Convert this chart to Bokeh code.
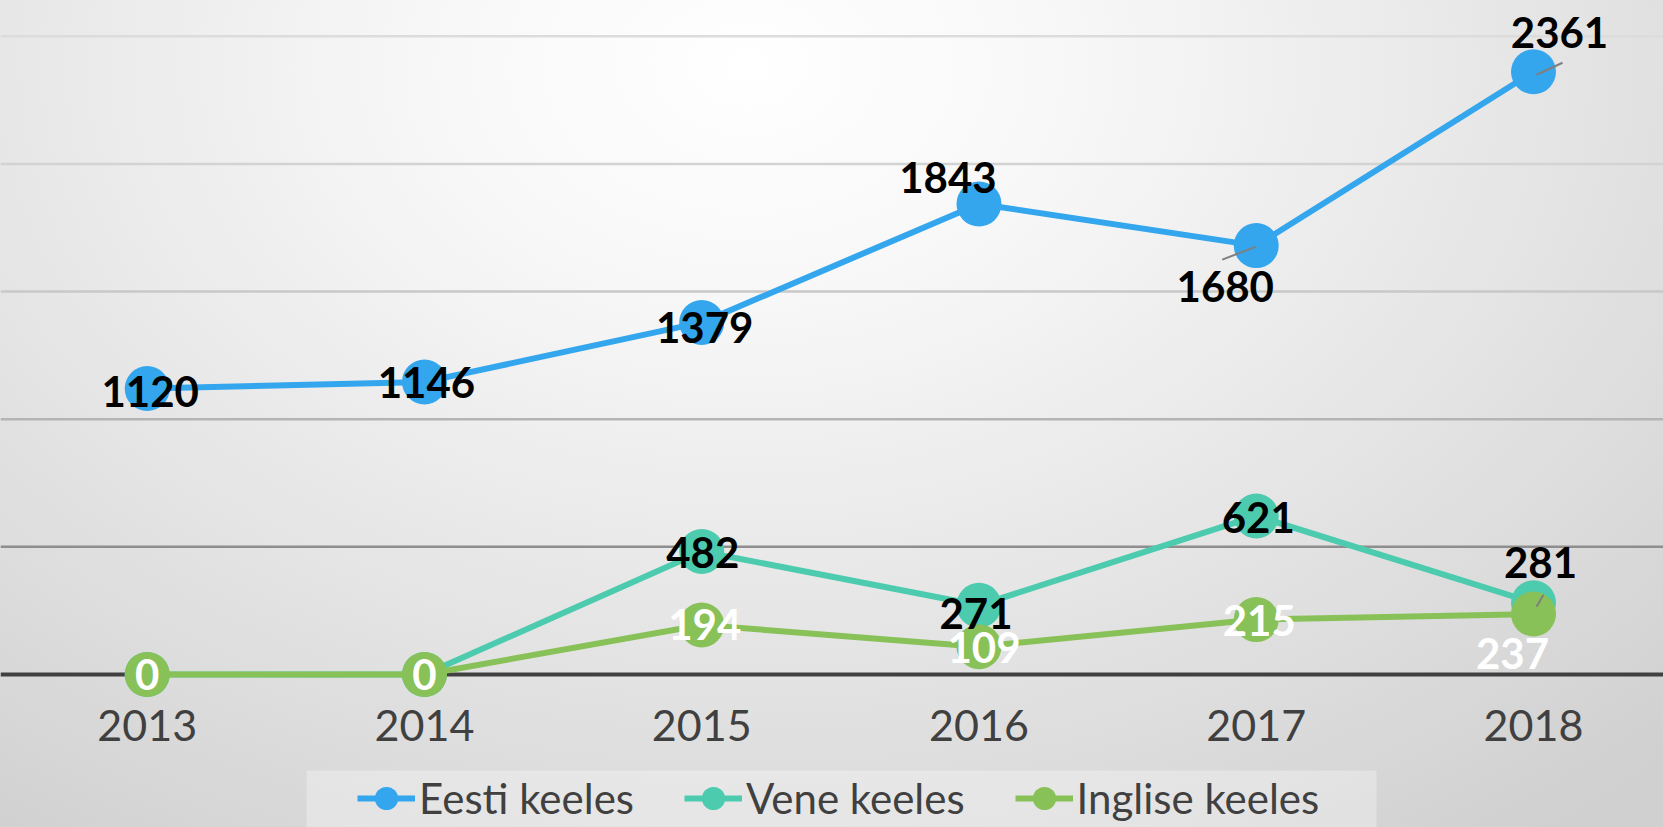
from bokeh.plotting import figure
from bokeh.models import Legend, LegendItem, FixedTicker, Span, BoxAnnotation, ColumnDataSource
from bokeh.core.properties import value
from bokeh.embed import file_html
from bokeh.resources import INLINE

# ---------------- data ----------------
years = [2013, 2014, 2015, 2016, 2017, 2018]
year_labels = ["2013", "2014", "2015", "2016", "2017", "2018"]
eesti = [1120, 1146, 1379, 1843, 1680, 2361]
vene = [0, 0, 482, 271, 621, 281]
inglise = [0, 0, 194, 109, 215, 237]
series_names = ["Eesti keeles", "Vene keeles", "Inglise keeles"]
grid_values = [500, 1000, 1500, 2000, 2500]

# ---------------- style ----------------
colors = ["#33a6ee", "#4ccbae", "#88c157"]
label_colors = ["#000000", "#000000", "#ffffff"]
grid_colors = ["#8e8e8e", "#b4b4b4", "#c8c8c8", "#d3d3d3", "#dcdcdc"]
# label offsets in screen px (dx, dy-down); None = label hidden
label_offsets = [
    [(3, 3), (2, 1), (3, 5), (-31, -26), (-31, 41), (26, -39)],
    [None, None, (1, 1), (-3, 8), (2, 2), (7, -40)],
    [(0, 0), (0, 0), (3, 0), (5, 1), (3, 1), (-21, 40)],
]
# leader lines: (series, index) -> (start offset px, end offset px)
leaders = {(0, 4): ((0, 1), (-34, 14)), (0, 5): ((3, 3), (29, -9)), (1, 5): ((3, 4), (10, -8))}

FONT = "Lato"
W, H = 1663, 827
PX_PER_YEAR = 277.26
PX_PER_UNIT = 0.2553
ZERO_Y = 674      # px from top of canvas where value 0 sits
FIRST_X = 146.7   # px from left of canvas where the first year sits

x_start = years[0] - FIRST_X / PX_PER_YEAR
x_end = x_start + W / PX_PER_YEAR
y_end = ZERO_Y / PX_PER_UNIT
y_start = -(H - ZERO_Y) / PX_PER_UNIT

p = figure(width=W, height=H, x_range=(x_start, x_end), y_range=(y_start, y_end),
           output_backend="svg", toolbar_location=None, min_border=0,
           styles={"background": "radial-gradient(ellipse 80% 115% at 45% 8%, #ffffff 0%, #f7f7f7 25%, #e5e5e5 60%, #d0d0d0 100%)"})
p.border_fill_color = None
p.background_fill_color = None
p.outline_line_color = None
p.xgrid.visible = False
p.ygrid.visible = False
p.yaxis.visible = False

for gv, gc in zip(grid_values, grid_colors):
    p.add_layout(Span(location=gv, dimension="width", line_color=gc, line_width=2.5, level="underlay"))

xa = p.xaxis[0]
xa.fixed_location = 0
xa.level = "underlay"
xa.ticker = FixedTicker(ticks=years)
xa.major_label_overrides = {y: l for y, l in zip(years, year_labels)}
xa.axis_line_color = "#404040"
xa.axis_line_width = 4
xa.major_tick_line_color = None
xa.minor_tick_line_color = None
xa.major_tick_out = 0
xa.major_label_standoff = 35
xa.major_label_text_font = FONT
xa.major_label_text_font_size = "43px"
xa.major_label_text_color = "#404040"

# legend background box
p.add_layout(BoxAnnotation(left=x_start + 306 / PX_PER_YEAR, right=x_start + 1376 / PX_PER_YEAR,
                           top=y_end - 770 / PX_PER_UNIT, bottom=y_start - 200,
                           fill_color="#ffffff", fill_alpha=0.3, line_color=None, level="underlay"))

legend_items = []
all_series = [eesti, vene, inglise]
for vals, col, name in zip(all_series, colors, series_names):
    lr = p.line(years, vals, line_color=col, line_width=6)
    sr = p.scatter(years, vals, size=45, fill_color=col, line_color=None)
    legend_items.append(LegendItem(label=name, renderers=[lr, sr]))

# leader lines
for (si, idx), ((sx0, sy0), (sx1, sy1)) in leaders.items():
    xv, yv = years[idx], all_series[si][idx]
    p.segment(x0=[xv + sx0 / PX_PER_YEAR], y0=[yv - sy0 / PX_PER_UNIT],
              x1=[xv + sx1 / PX_PER_YEAR], y1=[yv - sy1 / PX_PER_UNIT],
              line_color="#7f7f7f", line_width=2)

# data labels
for vals, lc, offs in zip(all_series, label_colors, label_offsets):
    xs, ys, ts, dx, dy = [], [], [], [], []
    for xv, v, o in zip(years, vals, offs):
        if o is None:
            continue
        xs.append(xv); ys.append(v); ts.append(str(v)); dx.append(o[0]); dy.append(o[1])
    src = ColumnDataSource(dict(x=xs, y=ys, t=ts, dx=dx, dy=dy))
    p.text(x="x", y="y", text="t", x_offset="dx", y_offset="dy", source=src,
           text_align="center", text_baseline="middle", text_color=lc,
           text_font=value(FONT), text_font_style="bold", text_font_size="42px")

legend = Legend(items=legend_items, orientation="horizontal", location=(357, -5),
                padding=0, margin=0, spacing=50, glyph_width=58, glyph_height=68,
                label_standoff=4, label_text_font=FONT, label_text_font_size="42px",
                label_text_color="#404040", background_fill_alpha=0, border_line_color=None)
p.add_layout(legend)

open("out.html", "w").write(file_html(p, INLINE))
